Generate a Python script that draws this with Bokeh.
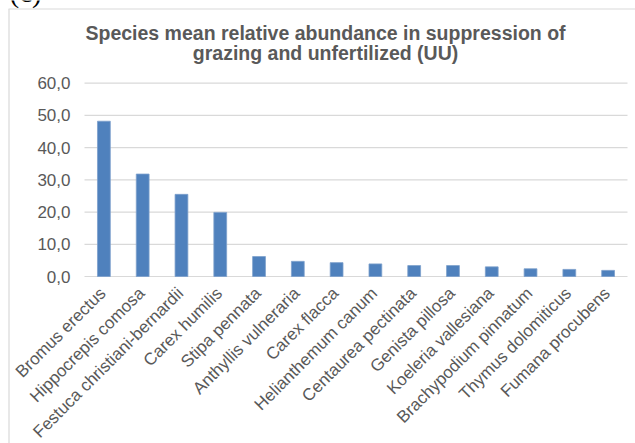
import math
from bokeh.plotting import figure
from bokeh.models import Range1d
from bokeh.core.properties import value
from bokeh.embed import file_html
from bokeh.resources import INLINE

species = ["Bromus erectus", "Hippocrepis comosa", "Festuca christiani-bernardii",
           "Carex humilis", "Stipa pennata", "Anthyllis vulneraria", "Carex flacca",
           "Helianthemum canum", "Centaurea pectinata", "Genista pillosa",
           "Koeleria vallesiana", "Brachypodium pinnatum", "Thymus dolomiticus",
           "Fumana procubens"]
abundance = [48.2, 31.8, 25.5, 19.9, 6.2, 4.7, 4.3, 3.9, 3.4, 3.4, 3.0, 2.4, 2.2, 1.9]
y_ticks = [0, 10, 20, 30, 40, 50, 60]
y_tick_labels = ["0,0", "10,0", "20,0", "30,0", "40,0", "50,0", "60,0"]
title_lines = ["Species mean relative abundance in suppression of",
               "grazing and unfertilized (UU)"]
panel_tag = "(c)"

TXT = "#595959"
GRID = "#d9d9d9"
FONT = "Liberation Sans"

W, H = 635, 443
n = len(species)
# plot-area geometry in canvas pixels
AREA_LEFT, AREA_RIGHT = 84, 627
AREA_TOP, AREA_BOTTOM = 82.7, 276.0
px_x = (AREA_RIGHT - AREA_LEFT) / n
px_y = (AREA_BOTTOM - AREA_TOP) / 60.0


def X(px):
    return (px - AREA_LEFT) / px_x


def Y(py):
    return 60 - (py - AREA_TOP) / px_y


p = figure(width=W, height=H, output_backend="svg", toolbar_location=None,
           x_range=Range1d(X(0), X(W)), y_range=Range1d(Y(H), Y(0)),
           min_border=0, x_axis_type=None, y_axis_type=None)
p.outline_line_color = None
p.background_fill_color = "white"
p.border_fill_color = "white"
p.grid.visible = False

centers = [i + 0.5 for i in range(n)]

# chart box border (left and top edges visible)
p.segment(x0=[X(8.5), X(8)], x1=[X(8.5), X(W)], y0=[Y(8.5), Y(8.5)], y1=[Y(H), Y(8.5)],
          line_color=GRID, line_width=1.2)

# panel tag, mostly above the picture
p.text(x=[X(9)], y=[Y(-8.5)], text=[panel_tag], text_align="left", text_baseline="middle",
       text_font=value("Liberation Serif"), text_font_size="29px", text_color="black")

# horizontal grid lines at the value ticks
p.segment(x0=[0] * len(y_ticks), x1=[n] * len(y_ticks), y0=y_ticks, y1=y_ticks,
          line_color=GRID, line_width=1.2)

# bars
p.vbar(x=centers, top=abundance, width=0.33, fill_color="#4f81bd", line_color="#7c9fcc",
       line_width=0.8)

# value tick labels
p.text(x=[0] * len(y_ticks), y=y_ticks, text=y_tick_labels, x_offset=-14,
       text_align="right", text_baseline="middle",
       text_font=value(FONT), text_font_size="17px", text_color=TXT)

# category labels, rotated 45 degrees under each bar
p.text(x=centers, y=[0] * n, text=species, angle=math.pi / 4,
       text_align="right", text_baseline="middle", x_offset=-1, y_offset=14,
       text_font=value(FONT), text_font_size="17px", text_color=TXT)

# two-line title
p.text(x=[n / 2] * 2, y=[60, 60], text=title_lines,
       x_offset=-30.5, y_offset=[-50.5, -30],
       text_align="center", text_baseline="middle",
       text_font=value(FONT), text_font_style="bold", text_font_size="19.5px",
       text_color=TXT)

open("out.html", "w").write(file_html(p, INLINE))
